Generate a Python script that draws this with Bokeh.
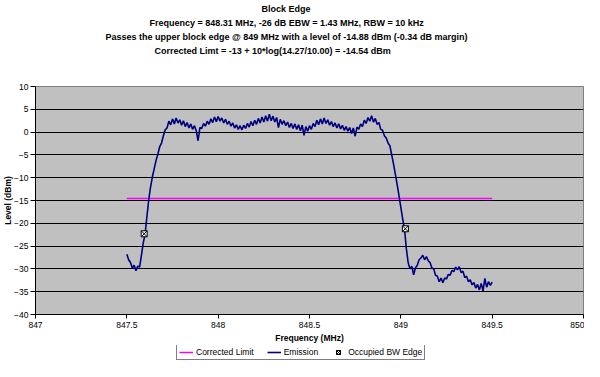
import numpy as np
from bokeh.plotting import figure
from bokeh.layouts import column
from bokeh.models import Range1d, FixedTicker, Legend, LegendItem, Title
from bokeh.embed import file_html
from bokeh.resources import INLINE

title_lines = [
    "Block Edge",
    "Frequency = 848.31 MHz, -26 dB EBW = 1.43 MHz,  RBW = 10 kHz",
    "Passes  the upper block edge @ 849 MHz with a level of -14.88 dBm (-0.34 dB margin)",
    "Corrected Limt = -13 + 10*log(14.27/10.00) = -14.54 dBm",
]
x_ticks = [847, 847.5, 848, 848.5, 849, 849.5, 850]
x_tick_labels = ["847", "847.5", "848", "848.5", "849", "849.5", "850"]
y_ticks = [10, 5, 0, -5, -10, -15, -20, -25, -30, -35, -40]
legend_labels = ["Corrected Limit", "Emission", "Occupied BW Edge"]

sweep_start = 847.5
sweep_stop = 849.5
emission_level = [
    -26.8, -28.0, -28.6, -29.8, -29.2, -30.4, -29.4, -29.6, -27.0, -24.3,
    -22.3, -18.5, -14.8, -12.0, -9.8, -8.0, -6.2, -4.8, -3.2, -2.4,
    -0.8, 0.5, 0.9, 2.4, 1.6, 2.9, 1.8, 3.1, 2.0, 2.7,
    1.5, 2.5, 1.2, 2.1, 0.9, 1.8, 0.6, 1.4, 0.3, -1.9,
    1.0, 0.8, 1.9, 1.3, 2.4, 1.7, 2.9, 2.1, 3.3, 2.3,
    3.4, 2.4, 3.1, 2.0, 2.8, 1.7, 2.4, 1.3, 2.0, 0.9,
    1.6, 0.6, 1.4, 0.5, 1.5, 0.8, 1.9, 1.1, 2.3, 1.4,
    2.6, 1.7, 3.0, 2.0, 3.3, 2.2, 3.6, 2.4, 3.9, 2.5,
    3.5, 2.2, 3.2, 1.0, 2.8, 1.7, 2.5, 1.4, 2.2, 1.0,
    1.9, 0.8, 1.8, 0.6, 1.6, 0.3, 1.5, -0.7, 1.2, 0.2,
    1.4, 0.6, 1.9, 1.2, 2.6, 1.6, 2.9, 1.8, 3.1, 1.9,
    2.7, 1.5, 2.3, 1.2, 2.0, 0.9, 1.8, 0.7, 1.5, 0.4,
    1.2, 0.2, 1.0, -0.3, 0.9, -0.9, 1.1, 0.6, 1.8, 1.2,
    2.6, 1.9, 3.2, 2.4, 3.6, 2.2, 3.0, 1.7, 2.1, 0.6,
    0.4, -0.8, -1.3, -2.4, -3.0, -5.0, -7.0, -9.2, -11.5, -14.0,
    -16.5, -19.0, -21.2, -25.5, -28.6, -30.0, -29.4, -31.3, -29.8, -29.2,
    -28.0, -27.6, -27.0, -28.0, -27.3, -28.2, -28.6, -29.8, -30.0, -31.4,
    -31.6, -32.8, -32.0, -33.0, -32.0, -32.2, -31.2, -31.4, -30.3, -30.6,
    -29.6, -30.2, -29.5, -30.8, -30.5, -31.9, -31.6, -32.8, -32.4, -33.5,
    -33.0, -34.2, -33.4, -34.6, -33.2, -34.8, -32.1, -34.0, -32.8, -33.6,
    -32.9,
]
limit_freq = [847.5, 849.5]
limit_level = [-14.54, -14.54]
obw_freq = [847.595, 849.025]
obw_level = [-22.3, -21.2]

emission_freq = np.linspace(sweep_start, sweep_stop, len(emission_level))

FONT = "Liberation Sans"
LIMIT_COLOR = "#FF00FF"
EMISSION_COLOR = "#000080"

p = figure(width=584, height=345, output_backend="svg", toolbar_location=None,
           x_range=Range1d(847, 850), y_range=Range1d(-40, 10),
           min_border_left=35, min_border_right=1, min_border_top=84, min_border_bottom=29)
p.background_fill_color = "#C0C0C0"
p.border_fill_color = "white"
p.outline_line_color = "#808080"
p.outline_line_width = 1

p.xgrid.visible = False
p.ygrid.grid_line_color = "black"
p.ygrid.grid_line_width = 1
p.ygrid.ticker = FixedTicker(ticks=y_ticks)

p.xaxis.ticker = FixedTicker(ticks=x_ticks)
p.xaxis.major_label_overrides = {t: l for t, l in zip(x_ticks, x_tick_labels)}
p.yaxis.ticker = FixedTicker(ticks=y_ticks)
for ax in (p.xaxis[0], p.yaxis[0]):
    ax.axis_line_color = "black"
    ax.major_tick_line_color = "black"
    ax.major_tick_in = 0
    ax.minor_tick_line_color = None
    ax.major_label_text_font = FONT
    ax.major_label_text_font_size = "8.5px"
    ax.major_label_text_color = "black"
    ax.axis_label_text_font = FONT
    ax.axis_label_text_font_size = "8.5px"
    ax.axis_label_text_font_style = "bold"
    ax.axis_label_text_color = "black"
p.xaxis.major_tick_out = 4
p.yaxis.major_tick_out = 5
p.xaxis.major_label_standoff = 3
p.yaxis.major_label_standoff = 2
p.xaxis.axis_label = "Frequency (MHz)"
p.yaxis.axis_label = "Level (dBm)"
p.xaxis.axis_label_standoff = 2
p.yaxis.axis_label_standoff = -2

p.line(limit_freq, limit_level, line_color=LIMIT_COLOR, line_width=1.5)
p.line(emission_freq, emission_level, line_color=EMISSION_COLOR, line_width=1.6)
p.scatter(obw_freq, obw_level, marker="square_x", size=6,
          fill_color="white", line_color="black", line_width=1)

# spacer between the title block and the plot area
p.add_layout(Title(text=" ", text_font=FONT, text_font_size="9px", standoff=18), "above")
title_offsets = [226, 114, 70, 119]
for i in reversed(range(len(title_lines))):
    p.add_layout(Title(text=title_lines[i], align="left", offset=title_offsets[i],
                       text_font=FONT, text_font_size="9px", text_font_style="bold",
                       text_color="black", standoff=2), "above")

# legend strip under the chart (its frame is aligned with the chart's frame)
lg = figure(width=584, height=16, output_backend="svg", toolbar_location=None,
            x_range=Range1d(0, 1), y_range=Range1d(0, 1),
            min_border_left=35, min_border_right=1, min_border_top=0, min_border_bottom=0)
lg.axis.visible = False
lg.grid.visible = False
lg.outline_line_color = None
lg.background_fill_color = "white"
lg.border_fill_color = "white"
# proxy renderers (kept outside the visible range) that only supply legend glyph styles
lg_lim = lg.line(x=[5, 6], y=[5, 6], line_color=LIMIT_COLOR, line_width=1.5)
lg_em = lg.line(x=[5, 6], y=[5, 6], line_color=EMISSION_COLOR, line_width=1.6)
lg_obw = lg.scatter(x=[5], y=[5], marker="square_x", size=6,
                    fill_color="white", line_color="black", line_width=1)
legend = Legend(items=[
    LegendItem(label=legend_labels[0], renderers=[lg_lim]),
    LegendItem(label=legend_labels[1], renderers=[lg_em]),
    LegendItem(label=legend_labels[2], renderers=[lg_obw]),
], orientation="horizontal", location=(141, 1), margin=0, padding=2,
    spacing=13, glyph_width=14, glyph_height=10, label_height=10,
    label_standoff=3, label_text_font=FONT, label_text_font_size="8.5px",
    label_text_color="black", border_line_color="black", border_line_width=1,
    background_fill_color="white", background_fill_alpha=1)
lg.add_layout(legend, "center")

layout = column(p, lg, spacing=0)
open("out.html", "w").write(file_html(layout, INLINE))
